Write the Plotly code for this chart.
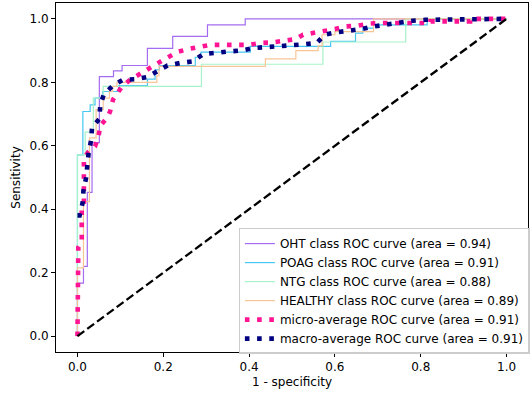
import plotly.graph_objects as go

# ---- data ----
labels = ["OHT class ROC curve (area = 0.94)",
          "POAG class ROC curve (area = 0.91)",
          "NTG class ROC curve (area = 0.88)",
          "HEALTHY class ROC curve (area = 0.89)",
          "micro-average ROC curve (area = 0.91)",
          "macro-average ROC curve (area = 0.91)"]

oht_fpr = [0, 0, 0.014, 0.023, 0.034, 0.051, 0.084, 0.104, 0.163, 0.222, 0.303, 0.391, 1.0]
oht_tpr = [0, 0.167, 0.22, 0.453, 0.61, 0.818, 0.836, 0.853, 0.907, 0.945, 0.981, 1.0, 1.0]

poag_fpr = [0, 0, 0.0126, 0.0296, 0.041, 0.059, 0.096, 0.163, 0.181, 0.191, 0.2746, 0.288,
            0.403, 0.59, 0.648, 0.665, 0.69, 0.815, 1.0]
poag_tpr = [0, 0.571, 0.708, 0.729, 0.75, 0.771, 0.79, 0.81, 0.839, 0.853, 0.879, 0.895,
            0.913, 0.929, 0.955, 0.971, 0.981, 1.0, 1.0]

ntg_fpr = [0, 0, 0.018, 0.037, 0.06, 0.289, 0.572, 0.765, 1.0]
ntg_tpr = [0, 0.571, 0.643, 0.75, 0.787, 0.857, 0.927, 1.0, 1.0]

healthy_fpr = [0, 0, 0.014, 0.028, 0.0435, 0.06, 0.0745, 0.082, 0.092, 0.185, 0.19, 0.438,
               0.509, 0.561, 0.57, 0.6, 0.69, 1.0]
healthy_tpr = [0, 0.215, 0.424, 0.625, 0.714, 0.75, 0.771, 0.787, 0.8, 0.82, 0.85, 0.874,
               0.9, 0.915, 0.95, 0.96, 1.0, 1.0]

micro_fpr = [0, 0.002, 0.01, 0.01, 0.015, 0.015, 0.025, 0.041, 0.049, 0.053, 0.07, 0.076,
             0.083, 0.095, 0.104, 0.123, 0.14, 0.16, 0.181, 0.2, 0.22, 0.236, 0.259, 0.282,
             0.31, 0.40, 0.428, 0.456, 0.48, 0.508, 0.526, 0.55, 0.574, 0.601, 0.624, 0.652,
             0.679, 0.706, 0.823, 0.823, 0.915, 0.915, 1.0]
micro_tpr = [0, 0.28, 0.30, 0.40, 0.42, 0.56, 0.58, 0.598, 0.629, 0.663, 0.69, 0.708,
             0.746, 0.77, 0.787, 0.808, 0.821, 0.837, 0.855, 0.871, 0.885, 0.897, 0.905, 0.911,
             0.918, 0.918, 0.924, 0.926, 0.929, 0.936, 0.95, 0.955, 0.96, 0.968, 0.976, 0.978,
             0.985, 0.987, 0.987, 0.992, 0.992, 1.0, 1.0]

macro_fpr = [0, 0.005, 0.012, 0.014, 0.02, 0.022, 0.026, 0.032, 0.034, 0.051, 0.053, 0.061,
             0.082, 0.106, 0.137, 0.163, 0.185, 0.21, 0.24, 0.269, 0.293, 0.321, 0.352, 0.381,
             0.41, 0.44, 0.469, 0.498, 0.529, 0.558, 0.576, 0.605, 0.634, 0.663, 0.69, 0.721,
             0.751, 0.781, 0.811, 1.0]
macro_tpr = [0.38, 0.38, 0.42, 0.459, 0.498, 0.538, 0.577, 0.619, 0.658, 0.685, 0.724, 0.761,
             0.789, 0.808, 0.81, 0.817, 0.834, 0.853, 0.861, 0.866, 0.889, 0.894, 0.897, 0.9,
             0.908, 0.911, 0.913, 0.916, 0.92, 0.924, 0.95, 0.958, 0.962, 0.968, 0.976, 0.983,
             0.988, 0.994, 0.997, 1.0]

chance = [0, 1]

x_ticks = [0.0, 0.2, 0.4, 0.6, 0.8, 1.0]
y_ticks = [0.0, 0.2, 0.4, 0.6, 0.8, 1.0]

# ---- styles ----
class_colors = ["#a56cf1", "#48c6f2", "#a6f3c9", "#f8c596"]
FONT = "DejaVu Sans"
FS = 12

fig = go.Figure()
for fpr, tpr, col, lab in zip([oht_fpr, poag_fpr, ntg_fpr, healthy_fpr],
                              [oht_tpr, poag_tpr, ntg_tpr, healthy_tpr],
                              class_colors, labels[:4]):
    fig.add_trace(go.Scatter(x=fpr, y=tpr, mode="lines", name=lab,
                             line=dict(color=col, width=1.2, shape="hv")))

fig.add_trace(go.Scatter(x=micro_fpr, y=micro_tpr, mode="lines", name=labels[4],
                         line=dict(color="#ff1493", width=4.6, dash="4.6px,7.6px")))
fig.add_trace(go.Scatter(x=macro_fpr, y=macro_tpr, mode="lines", name=labels[5],
                         line=dict(color="#000080", width=4.6, dash="4.6px,7.6px")))
fig.add_trace(go.Scatter(x=chance, y=chance, mode="lines", showlegend=False,
                         line=dict(color="black", width=2.3, dash="8.5px,3.7px")))

axis_common = dict(showgrid=False, zeroline=False, showline=True, mirror=True,
                   linecolor="black", linewidth=0.9, ticks="outside", ticklen=4,
                   tickwidth=0.9, tickcolor="black", tickformat=".1f", automargin=False,
                   tickfont=dict(family=FONT, size=FS, color="black"))

fig.update_layout(
    width=532, height=393,
    margin=dict(l=56, r=2, t=3, b=41),
    paper_bgcolor="white", plot_bgcolor="white",
    font=dict(family=FONT, size=FS, color="black"),
    xaxis=dict(range=[-0.05, 1.05], tickvals=x_ticks,
               title=dict(text="1 - specificity", font=dict(family=FONT, size=FS), standoff=4),
               **axis_common),
    yaxis=dict(range=[-0.05, 1.05], tickvals=y_ticks,
               title=dict(text="Sensitivity", font=dict(family=FONT, size=FS), standoff=6),
               **axis_common),
    legend=dict(x=1.004, y=-0.006, xanchor="right", yanchor="bottom",
                bgcolor="rgba(255,255,255,0.8)", bordercolor="#cccccc", borderwidth=1,
                font=dict(family=FONT, size=FS, color="black"), tracegroupgap=0),
    showlegend=True,
)

fig.write_html("out.html", config={"displayModeBar": False},
               post_script="document.body.style.margin='0';")
